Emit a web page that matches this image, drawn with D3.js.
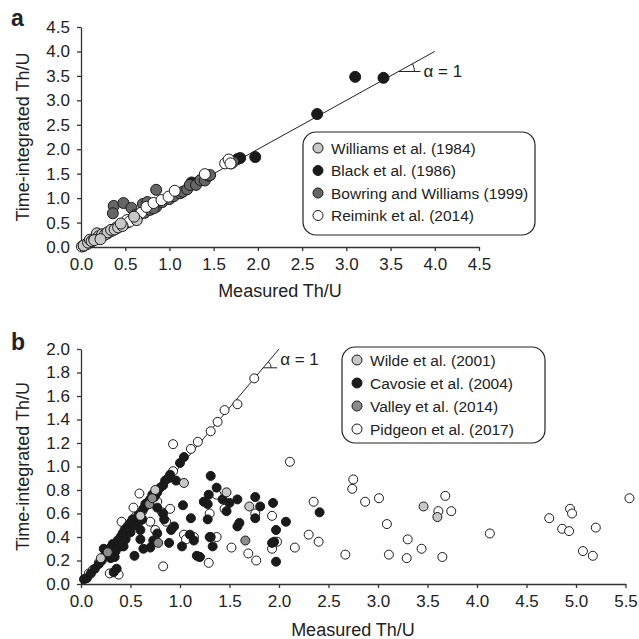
<!DOCTYPE html>
<html>
<head>
<meta charset="utf-8">
<script src="https://cdn.jsdelivr.net/npm/d3@7"></script>
<style>
  body { margin: 0; background: #fff; }
  svg text { font-family: "Liberation Sans", Arial, sans-serif; fill: #222; }
</style>
</head>
<body>
<div id="chart"></div>
<script>
// ---- panel a data: [measured, time-integrated]
var williams84 = [[0.03,0.03],[0.08,0.09],[0.10,0.15],[0.12,0.12],[0.15,0.17],[0.18,0.28],[0.20,0.22],[0.21,0.18],
  [0.24,0.26],[0.27,0.25],[0.30,0.30],[0.34,0.35],[0.38,0.36],[0.42,0.40],[0.47,0.43],[0.45,0.48],[0.63,0.55],
  [0.60,0.62],[0.15,0.14],[0.22,0.16]];
var black86 = [[2.67,2.72],[3.10,3.48],[3.42,3.46],[1.77,1.80],[1.80,1.82],[1.97,1.84],[1.25,1.32],[1.70,1.75],[1.30,1.30]];
var bowring99 = [[0.37,0.84],[0.36,0.69],[0.48,0.90],[0.57,0.80],[0.85,1.17],[0.70,0.88],[0.75,0.92],
  [0.25,0.25],[0.30,0.28],[0.35,0.34],[0.40,0.38],[0.45,0.45],[0.52,0.50],[0.58,0.57],[0.65,0.64],[0.72,0.70],
  [0.78,0.76],[0.85,0.82],[0.92,0.92],[1.00,0.98],[1.05,1.04],[1.12,1.10],[1.15,1.13],[1.20,1.18],[1.23,1.27],
  [1.30,1.27],[1.35,1.37],[1.40,1.36],[1.44,1.46],[1.46,1.47],[1.70,1.71],[1.72,1.74],[0.20,0.19],[0.15,0.16],
  [0.62,0.66],[0.82,0.79]];
var reimink14 = [[0.01,0.01],[0.03,0.02],[0.07,0.06],[0.12,0.11],[0.18,0.18],[0.26,0.25],[0.40,0.40],[0.48,0.45],
  [0.52,0.55],[0.60,0.60],[0.63,0.62],[0.68,0.70],[0.74,0.82],[0.82,0.90],[0.91,0.96],[0.99,1.03],[1.06,1.15],
  [1.40,1.49],[1.63,1.71],[1.67,1.79],[1.69,1.71],[0.55,0.52],[0.35,0.33]];

// ---- panel b data
var pidgeon17 = [[0.05,0.05],[0.08,0.09],[0.12,0.12],[0.18,0.18],[0.30,0.31],[0.45,0.46],[0.55,0.57],[0.65,0.66],
  [0.75,0.75],[0.88,0.90],[0.93,0.96],[1.11,1.15],[1.18,1.21],[1.31,1.30],[1.38,1.38],[1.45,1.48],[1.58,1.53],
  [1.75,1.75],[0.93,1.19],[0.29,0.09],[0.38,0.08],[0.83,0.15],[0.59,0.77],[0.53,0.65],[0.51,0.52],[0.41,0.53],
  [0.77,0.70],[0.82,0.61],[0.86,0.53],[0.75,0.46],[0.70,0.53],[0.90,0.64],[1.04,0.42],[1.06,0.38],[1.14,0.40],
  [1.20,0.23],[1.29,0.18],[1.30,0.60],[1.37,0.40],[1.37,0.76],[1.45,0.64],[1.52,0.31],[1.69,0.26],[1.76,0.60],
  [1.77,0.20],[1.93,0.58],[1.93,0.30],[1.98,0.36],[2.11,1.04],[2.16,0.31],[2.30,0.42],[2.35,0.70],[2.40,0.36],
  [2.67,0.25],[2.74,0.81],[2.75,0.89],[2.87,0.70],[3.01,0.73],[3.09,0.51],[3.11,0.25],[3.29,0.22],[3.30,0.38],
  [3.44,0.30],[3.61,0.62],[3.65,0.23],[3.68,0.75],[3.74,0.62],[4.13,0.43],[4.73,0.56],[4.86,0.47],[4.93,0.45],
  [4.94,0.64],[4.96,0.60],[5.07,0.28],[5.17,0.24],[5.20,0.48],[5.54,0.73],[0.45,0.40],[0.62,0.62]];
var cavosie04 = [[0.03,0.04],[0.06,0.05],[0.10,0.09],[0.14,0.13],[0.18,0.17],[0.21,0.20],[0.24,0.24],[0.23,0.30],
  [0.28,0.27],[0.30,0.31],[0.32,0.34],[0.35,0.33],[0.37,0.37],[0.40,0.40],[0.42,0.43],[0.44,0.46],[0.46,0.48],
  [0.48,0.50],[0.50,0.52],[0.52,0.55],[0.55,0.55],[0.58,0.58],[0.60,0.60],[0.63,0.64],[0.65,0.68],[0.68,0.70],
  [0.70,0.72],[0.72,0.76],[0.74,0.74],[0.77,0.78],[0.80,0.82],[0.83,0.84],[0.85,0.88],[0.88,0.90],[0.90,0.93],
  [0.96,0.88],[1.00,1.03],[1.04,1.08],[0.35,0.28],[0.45,0.38],[0.50,0.44],[0.55,0.50],[0.62,0.55],[0.40,0.32],
  [0.30,0.22],[1.31,0.92],[1.37,0.82],[1.29,0.76],[1.24,0.70],[1.28,0.68],[1.43,0.72],[1.50,0.69],[1.58,0.72],
  [1.47,0.62],[1.76,0.74],[1.81,0.66],[1.76,0.56],[1.94,0.69],[2.07,0.53],[1.97,0.46],[1.95,0.36],[1.93,0.35],
  [1.97,0.19],[1.30,0.40],[1.33,0.32],[1.58,0.49],[1.60,0.52],[1.17,0.24],[1.20,0.23],[1.10,0.42],[1.14,0.37],
  [1.11,0.56],[1.03,0.67],[1.02,0.32],[0.89,0.35],[0.91,0.46],[0.94,0.49],[0.84,0.55],[0.83,0.60],[0.77,0.65],
  [0.77,0.43],[0.73,0.37],[0.63,0.30],[0.54,0.24],[0.60,0.38],[0.60,0.46],[0.60,0.54],[0.70,0.31],[0.43,0.32],
  [0.34,0.23],[0.36,0.13],[0.33,0.10],[2.41,0.61],[1.28,0.55],[1.31,0.40]];
var wilde01 = [[1.04,0.86],[1.47,0.78],[1.70,0.66],[3.46,0.66],[3.60,0.57],[0.60,0.58],[0.75,0.80],[0.20,0.22]];
var valley14 = [[0.27,0.27],[0.69,0.68],[0.72,0.73],[0.78,0.35],[1.66,0.37]];

var ticksA = [0, 0.5, 1, 1.5, 2, 2.5, 3, 3.5, 4, 4.5];
var ticksBx = [0, 0.5, 1, 1.5, 2, 2.5, 3, 3.5, 4, 4.5, 5, 5.5];
var ticksBy = [0, 0.2, 0.4, 0.6, 0.8, 1, 1.2, 1.4, 1.6, 1.8, 2];

var namesA = ["Williams et al. (1984)", "Black et al. (1986)", "Bowring and Williams (1999)", "Reimink et al. (2014)"];
var namesB = ["Wilde et al. (2001)", "Cavosie et al. (2004)", "Valley et al. (2014)", "Pidgeon et al. (2017)"];

var svg = d3.select("#chart").append("svg").attr("width", 639).attr("height", 639);
var fmt = d3.format(".1f");

function panel(opt) {
  var x = d3.scaleLinear().domain([0, opt.xmax]).range([81, opt.xr]);
  var y = d3.scaleLinear().domain([0, opt.ymax]).range([opt.yb, opt.yt]);
  var g = svg.append("g");

  var xa = g.append("g").attr("transform", "translate(0," + opt.yb + ")")
    .call(d3.axisBottom(x).tickValues(opt.xt).tickFormat(fmt).tickSize(4).tickSizeOuter(0).tickPadding(7));
  var ya = g.append("g").attr("transform", "translate(81,0)")
    .call(d3.axisLeft(y).tickValues(opt.yt2).tickFormat(fmt).tickSize(4).tickSizeOuter(0).tickPadding(7));
  [xa, ya].forEach(function(a) {
    a.selectAll("path,line").attr("stroke", "#333").attr("stroke-width", 1.3);
    a.selectAll("text").style("font-size", "17px").attr("fill", "#222");
  });

  // 1:1 line
  g.append("line")
    .attr("x1", x(0)).attr("y1", y(0)).attr("x2", x(opt.lineEnd)).attr("y2", y(opt.lineEnd))
    .attr("stroke", "#222").attr("stroke-width", 1);

  // angle mark
  var vx = x(opt.vert), vy = y(opt.vert);
  var ang = Math.atan2(y(0) - y(1), x(1) - x(0));
  g.append("line").attr("x1", vx).attr("y1", vy).attr("x2", vx + opt.hlen).attr("y2", vy)
    .attr("stroke", "#222").attr("stroke-width", 1);
  var r = opt.arcR;
  g.append("path")
    .attr("d", "M" + (vx + r) + "," + vy + " A" + r + "," + r + " 0 0 0 " +
      (vx + r * Math.cos(ang)) + "," + (vy - r * Math.sin(ang)))
    .attr("fill", "none").attr("stroke", "#222").attr("stroke-width", 1);
  g.append("text").attr("x", vx + opt.hlen + 3).attr("y", vy + opt.tdy)
    .style("font-size", "17px").text("\u03b1 = 1");

  opt.series.forEach(function(s) {
    g.selectAll(null).data(s.data).enter().append("circle")
      .attr("cx", function(d) { return x(d[0]); })
      .attr("cy", function(d) { return y(d[1]); })
      .attr("r", opt.r)
      .attr("fill", s.fill).attr("stroke", "#1a1a1a").attr("stroke-width", 1);
  });

  // legend
  var L = opt.legend;
  g.append("rect").attr("x", L.x).attr("y", L.y).attr("width", L.w).attr("height", L.h)
    .attr("rx", 13).attr("ry", 13).attr("fill", "#fff").attr("stroke", "#222").attr("stroke-width", 1.2);
  L.items.forEach(function(it, i) {
    var cy = L.y + L.first + i * L.step;
    g.append("circle").attr("cx", L.x + 15).attr("cy", cy).attr("r", 5)
      .attr("fill", it.fill).attr("stroke", "#1a1a1a").attr("stroke-width", 1);
    g.append("text").attr("x", L.x + 28).attr("y", cy + 5.5).style("font-size", "15.5px").text(it.name);
  });

  g.append("text").attr("x", opt.xLabelX).attr("y", opt.yb + opt.xLabelDy).attr("text-anchor", "middle")
    .style("font-size", "18px").text("Measured Th/U");
  g.append("text").attr("transform", "translate(29," + (opt.yb + opt.yt) / 2 + ") rotate(-90)")
    .attr("text-anchor", "middle").style("font-size", "18px").text("Time-integrated Th/U");
  g.append("text").attr("x", 11).attr("y", opt.tagY).style("font-size", "23px").style("font-weight", "bold")
    .text(opt.tag);
}

var cLight = "#c8c8c8", cBlack = "#1a1a1a", cDark = "#666", cMid = "#8c8c8c", cWhite = "#fff";

panel({
  xmax: 4.5, xr: 479, ymax: 4.5, yb: 247, yt: 27, xt: ticksA, yt2: ticksA, r: 5.5,
  lineEnd: 4.0, vert: 3.59, hlen: 22, arcR: 16, tdy: 6,
  series: [
    { data: black86, fill: cBlack },
    { data: bowring99, fill: cDark },
    { data: reimink14, fill: cWhite },
    { data: williams84, fill: cLight }
  ],
  legend: { x: 303, y: 132, w: 232, h: 103, first: 16, step: 22.5,
    items: [{ name: namesA[0], fill: cLight }, { name: namesA[1], fill: cBlack },
            { name: namesA[2], fill: cDark }, { name: namesA[3], fill: cWhite }] },
  xLabelX: 280, xLabelDy: 50, tag: "a", tagY: 26
});

panel({
  xmax: 5.5, xr: 625.5, ymax: 2.0, yb: 584, yt: 349, xt: ticksBx, yt2: ticksBy, r: 4.5,
  lineEnd: 2.0, vert: 1.84, hlen: 14, arcR: 8, tdy: -3,
  series: [
    { data: pidgeon17, fill: cWhite },
    { data: cavosie04, fill: cBlack },
    { data: wilde01, fill: cLight },
    { data: valley14, fill: cMid }
  ],
  legend: { x: 342, y: 347, w: 203, h: 96, first: 13, step: 23,
    items: [{ name: namesB[0], fill: cLight }, { name: namesB[1], fill: cBlack },
            { name: namesB[2], fill: cMid }, { name: namesB[3], fill: cWhite }] },
  xLabelX: 353, xLabelDy: 52, tag: "b", tagY: 350
});
</script>
</body>
</html>
